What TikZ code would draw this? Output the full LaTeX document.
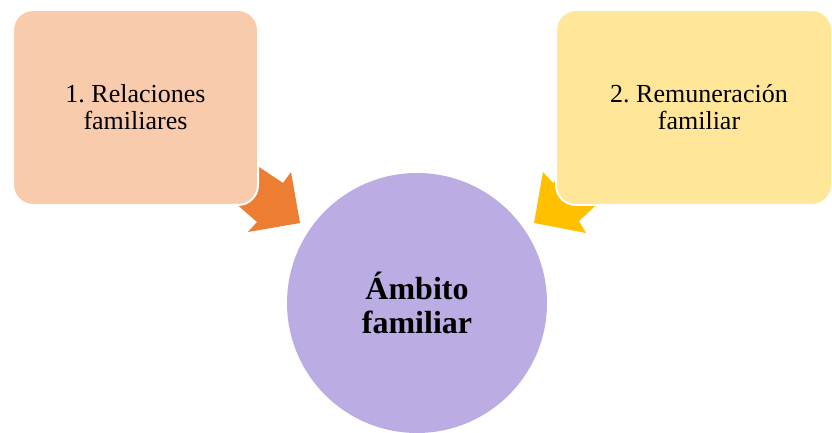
\documentclass[tikz,border=0pt]{standalone}
\usepackage{fontspec}
\setmainfont{Liberation Serif}
\frenchspacing
\definecolor{peach}{HTML}{F8CBAD}
\definecolor{lightgold}{HTML}{FFE699}
\definecolor{darkorange}{HTML}{ED7D31}
\definecolor{gold}{HTML}{FFC000}
\definecolor{lilac}{HTML}{BBADE3}
\tikzset{
    box/.style={rectangle, rounded corners=20pt, draw=white, line width=2pt, align=center,
        minimum width=245pt, minimum height=195pt, font=\fontsize{26}{27}\selectfont},
    hub/.style={circle, fill=lilac, minimum size=260pt, align=center,
        font=\fontsize{32}{34}\selectfont\bfseries}
}
\begin{document}
\begin{tikzpicture}[x=1pt,y=1pt]
    \useasboundingbox (0,0) rectangle (832,433);
    %arrow 1
    \fill[darkorange] (250,272) -- (262,264) -- (283,250) -- (291,261) -- (300,210)
        -- (248,201) -- (257,211) -- (242,224) -- (227,237) -- cycle;
    %arrow 2
    \fill[gold] (570,266) -- (553,250) -- (543,261) -- (534,210) -- (586,200)
        -- (579,212) -- (592,224) -- (605,236) -- cycle;
    %boxes
    \node[box, fill=peach] (rel) at (135.5,325.5) {1. Relaciones\\familiares};
    \node[box, fill=lightgold, minimum width=276pt] (rem) at (694,325.5) {\hspace{10pt}2. Remuneración\\\hspace{10pt}familiar};
    %centre
    \node[hub] (amb) at (417,130) {Ámbito\\familiar};
\end{tikzpicture}
\end{document}
